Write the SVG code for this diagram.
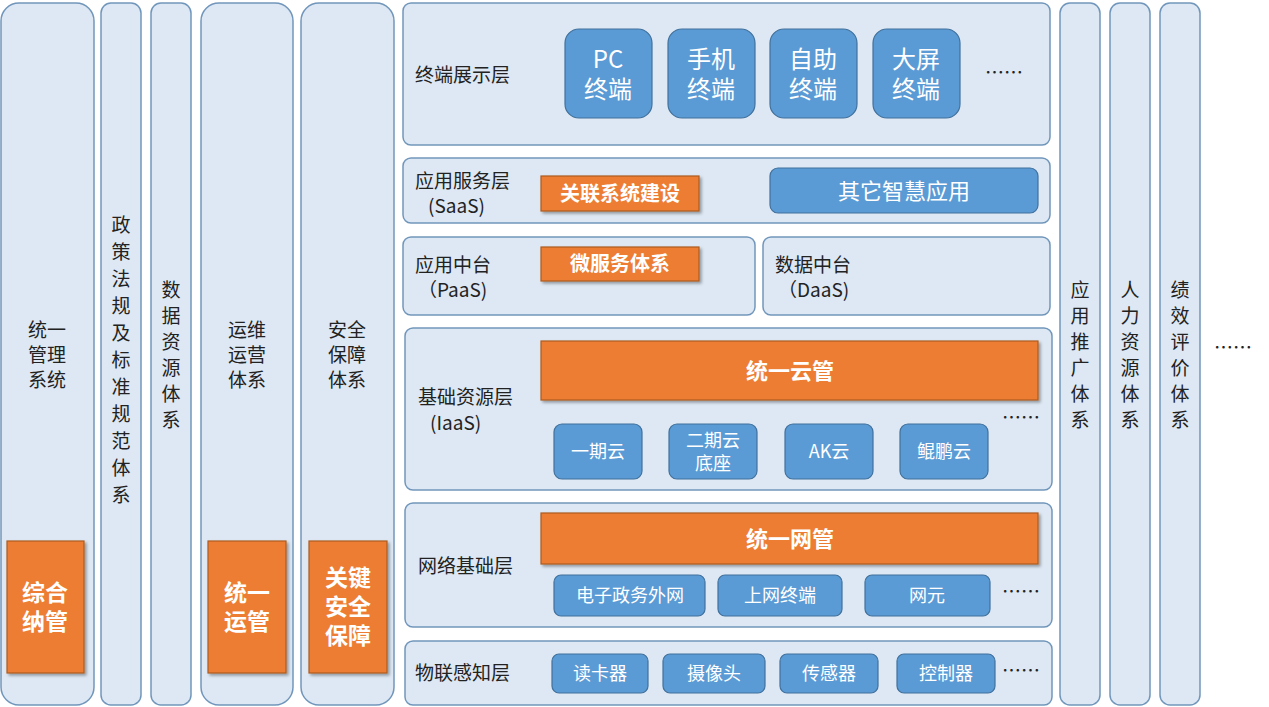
<svg xmlns="http://www.w3.org/2000/svg" width="1269" height="707" viewBox="0 0 1269 707">
<defs>
<style>
text{font-family:"Noto Sans CJK SC","Liberation Sans",sans-serif;fill:#222}
.p{fill:#dde8f4;stroke:#7196bb;stroke-width:1.5}
.b{fill:#5b9bd5;stroke:#41719c;stroke-width:1.2}
.o{fill:#ed7d31;stroke:#ae5a21;stroke-width:1.2;filter:url(#sh)}
.l{font-size:19px}
.w{fill:#fff}
.wb{fill:#fff;font-weight:bold}
.c{text-anchor:middle}
</style>
<filter id="sh" x="-10%" y="-10%" width="125%" height="130%"><feDropShadow dx="2" dy="2" stdDeviation="1.5" flood-color="#000" flood-opacity="0.35"/></filter>
</defs>
<g id="cols">
<g id="n-mgmt"><rect class="p" x="1" y="3" width="93" height="702" rx="18"/><text class="l c" x="47" y="337">统一</text><text class="l c" x="47" y="362">管理</text><text class="l c" x="47" y="387">系统</text>
<rect class="o" x="7" y="541" width="77" height="132"/><text class="wb c" font-size="23" x="45" y="601">综合</text><text class="wb c" font-size="23" x="45" y="630">纳管</text></g>
<g id="n-policy"><rect class="p" x="101" y="3" width="40" height="702" rx="10"/><text class="l c" x="121" y="0"><tspan x="121" y="232">政</tspan><tspan x="121" y="259">策</tspan><tspan x="121" y="286">法</tspan><tspan x="121" y="313">规</tspan><tspan x="121" y="340">及</tspan><tspan x="121" y="367">标</tspan><tspan x="121" y="394">准</tspan><tspan x="121" y="421">规</tspan><tspan x="121" y="448">范</tspan><tspan x="121" y="475">体</tspan><tspan x="121" y="502">系</tspan></text></g>
<g id="n-data"><rect class="p" x="151" y="3" width="40" height="702" rx="10"/><text class="l c"><tspan x="171" y="297">数</tspan><tspan x="171" y="323">据</tspan><tspan x="171" y="349">资</tspan><tspan x="171" y="375">源</tspan><tspan x="171" y="401">体</tspan><tspan x="171" y="427">系</tspan></text></g>
<g id="n-ops"><rect class="p" x="201" y="3" width="92" height="702" rx="18"/><text class="l c" x="247" y="337">运维</text><text class="l c" x="247" y="362">运营</text><text class="l c" x="247" y="387">体系</text>
<rect class="o" x="208" y="541" width="78" height="132"/><text class="wb c" font-size="23" x="247" y="601">统一</text><text class="wb c" font-size="23" x="247" y="630">运管</text></g>
<g id="n-sec"><rect class="p" x="301" y="3" width="93" height="702" rx="18"/><text class="l c" x="347" y="337">安全</text><text class="l c" x="347" y="362">保障</text><text class="l c" x="347" y="387">体系</text>
<rect class="o" x="309" y="541" width="78" height="132"/><text class="wb c" font-size="23" x="348" y="586">关键</text><text class="wb c" font-size="23" x="348" y="615">安全</text><text class="wb c" font-size="23" x="348" y="644">保障</text></g>
<g id="n-promo"><rect class="p" x="1060" y="3" width="40" height="702" rx="10"/><text class="l c"><tspan x="1080" y="297">应</tspan><tspan x="1080" y="323">用</tspan><tspan x="1080" y="349">推</tspan><tspan x="1080" y="375">广</tspan><tspan x="1080" y="401">体</tspan><tspan x="1080" y="427">系</tspan></text></g>
<g id="n-hr"><rect class="p" x="1110" y="3" width="40" height="702" rx="10"/><text class="l c"><tspan x="1130" y="297">人</tspan><tspan x="1130" y="323">力</tspan><tspan x="1130" y="349">资</tspan><tspan x="1130" y="375">源</tspan><tspan x="1130" y="401">体</tspan><tspan x="1130" y="427">系</tspan></text></g>
<g id="n-perf"><rect class="p" x="1160" y="3" width="40" height="702" rx="10"/><text class="l c"><tspan x="1180" y="297">绩</tspan><tspan x="1180" y="323">效</tspan><tspan x="1180" y="349">评</tspan><tspan x="1180" y="375">价</tspan><tspan x="1180" y="401">体</tspan><tspan x="1180" y="427">系</tspan></text></g>
<text class="l" x="1214" y="355">……</text>
</g>
<g id="n-terminal"><rect class="p" x="403" y="3" width="647" height="142" rx="8"/><text class="l" x="415" y="82">终端展示层</text>
<rect class="b" x="565" y="29" width="87" height="89" rx="14"/><text class="w c" font-size="24" x="608" y="68">PC</text><text class="w c" font-size="24" x="608" y="98">终端</text>
<rect class="b" x="668" y="29" width="87" height="89" rx="14"/><text class="w c" font-size="24" x="711" y="68">手机</text><text class="w c" font-size="24" x="711" y="98">终端</text>
<rect class="b" x="770" y="29" width="87" height="89" rx="14"/><text class="w c" font-size="24" x="813" y="68">自助</text><text class="w c" font-size="24" x="813" y="98">终端</text>
<rect class="b" x="873" y="29" width="87" height="89" rx="14"/><text class="w c" font-size="24" x="916" y="68">大屏</text><text class="w c" font-size="24" x="916" y="98">终端</text>
<text class="l" x="985" y="80">……</text></g>
<g id="n-saas"><rect class="p" x="403" y="158" width="647" height="65" rx="8"/><text class="l" x="415" y="188">应用服务层</text><text class="l" x="428" y="213">(SaaS)</text>
<rect class="o" x="541" y="176" width="158" height="35"/><text class="wb c" font-size="20" x="620" y="201">关联系统建设</text>
<rect class="b" x="770" y="168" width="268" height="45" rx="8"/><text class="w c" font-size="22" x="904" y="199">其它智慧应用</text></g>
<g id="n-paas"><rect class="p" x="403" y="237" width="352" height="78" rx="8"/><text class="l" x="415" y="272">应用中台</text><text class="l" x="418" y="297">（PaaS)</text>
<rect class="o" x="541" y="247" width="158" height="34"/><text class="wb c" font-size="20" x="620" y="271">微服务体系</text></g>
<g id="n-daas"><rect class="p" x="763" y="237" width="287" height="78" rx="8"/><text class="l" x="775" y="272">数据中台</text><text class="l" x="778" y="297">（DaaS)</text></g>
<g id="n-iaas"><rect class="p" x="405" y="328" width="647" height="162" rx="8"/><text class="l" x="418" y="404">基础资源层</text><text class="l" x="430" y="430">(IaaS)</text>
<rect class="o" x="541" y="341" width="497" height="59"/><text class="wb c" font-size="22" x="790" y="379">统一云管</text>
<rect class="b" x="554" y="424" width="88" height="55" rx="8"/><text class="w c" font-size="18" x="598" y="458">一期云</text>
<rect class="b" x="669" y="424" width="88" height="55" rx="8"/><text class="w c" font-size="18" x="713" y="447">二期云</text><text class="w c" font-size="18" x="713" y="470">底座</text>
<rect class="b" x="785" y="424" width="88" height="55" rx="8"/><text class="w c" font-size="18" x="829" y="458">AK云</text>
<rect class="b" x="900" y="424" width="88" height="55" rx="8"/><text class="w c" font-size="18" x="944" y="458">鲲鹏云</text>
<text class="l" x="1002" y="425">……</text></g>
<g id="n-net"><rect class="p" x="405" y="503" width="647" height="124" rx="8"/><text class="l" x="418" y="573">网络基础层</text>
<rect class="o" x="541" y="513" width="497" height="51"/><text class="wb c" font-size="22" x="790" y="547">统一网管</text>
<rect class="b" x="554" y="575" width="151" height="41" rx="7"/><text class="w c" font-size="18" x="630" y="602">电子政务外网</text>
<rect class="b" x="718" y="575" width="124" height="41" rx="7"/><text class="w c" font-size="18" x="780" y="602">上网终端</text>
<rect class="b" x="865" y="575" width="125" height="41" rx="7"/><text class="w c" font-size="18" x="927" y="602">网元</text>
<text class="l" x="1002" y="599">……</text></g>
<g id="n-iot"><rect class="p" x="405" y="641" width="647" height="64" rx="8"/><text class="l" x="415" y="680">物联感知层</text>
<rect class="b" x="552" y="654" width="96" height="39" rx="7"/><text class="w c" font-size="18" x="600" y="680">读卡器</text>
<rect class="b" x="663" y="654" width="102" height="39" rx="7"/><text class="w c" font-size="18" x="714" y="680">摄像头</text>
<rect class="b" x="780" y="654" width="98" height="39" rx="7"/><text class="w c" font-size="18" x="829" y="680">传感器</text>
<rect class="b" x="897" y="654" width="98" height="39" rx="7"/><text class="w c" font-size="18" x="946" y="680">控制器</text>
<text class="l" x="1002" y="678">……</text></g>
<g id="connectors"/>
</svg>
